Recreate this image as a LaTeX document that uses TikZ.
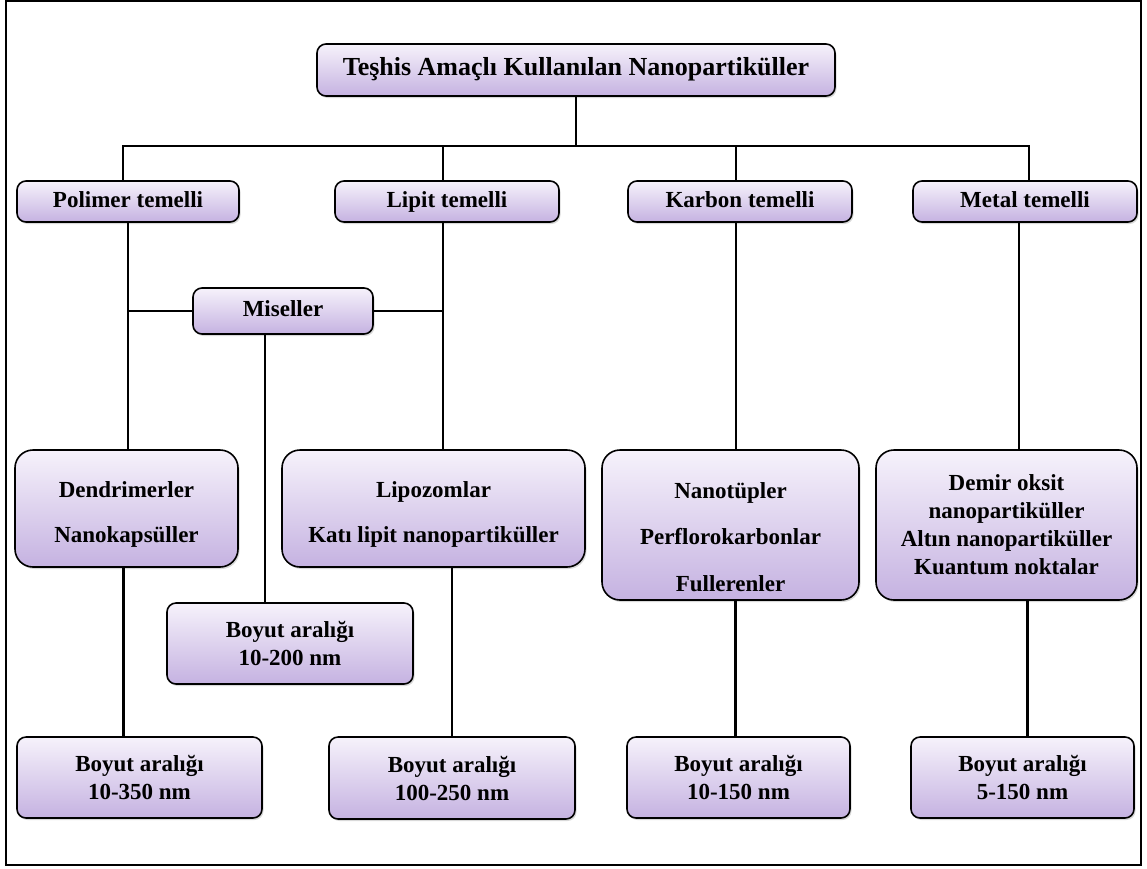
\documentclass[tikz,border=0pt]{standalone}
\usepackage{fontspec}
\setmainfont{Liberation Serif}
\usetikzlibrary{shadows}

\definecolor{kutuust}{RGB}{246,242,251}
\definecolor{kutualt}{RGB}{197,178,225}

\tikzset{
  kutu/.style={draw=black, line width=1.6pt, rounded corners=9pt,
    top color=kutuust, bottom color=kutualt,
    drop shadow={shadow xshift=1.5pt, shadow yshift=-2pt, opacity=0.3},
    align=center, inner sep=0pt,
    font=\bfseries\fontsize{23}{28}\selectfont},
  tekli/.style={text height=16pt, text depth=5pt},
  buyukkutu/.style={kutu, rounded corners=18pt},
  baglanti/.style={line width=2.6pt, draw=black},
}

\begin{document}
\begin{tikzpicture}[x=1pt, y=-1pt]
        \useasboundingbox (0,0) rectangle (1147,868);
        % Draw the frame
        \draw[line width=2pt] (6,1) rectangle (1141,865);
        % Draw the title box
        \node[kutu, tekli, minimum width=518pt, minimum height=52pt,
          font=\bfseries\fontsize{26}{30}\selectfont] (baslik) at (576,70)
          {Teşhis Amaçlı Kullanılan Nanopartiküller};
        \coordinate (bus) at (576,146);
        % Draw the groups
        \node[kutu, tekli, minimum width=222pt, minimum height=41pt] (pol) at (128,201.5) {Polimer temelli};
        \node[kutu, tekli, minimum width=224pt, minimum height=41pt] (lip) at (447,201.5) {Lipit temelli};
        \node[kutu, tekli, minimum width=224pt, minimum height=41pt] (kar) at (740,201.5) {Karbon temelli};
        \node[kutu, tekli, minimum width=224pt, minimum height=41pt] (met) at (1025,201.5) {Metal temelli};
        \node[kutu, tekli, minimum width=180pt, minimum height=46pt] (mis) at (283,311) {Miseller};
        % Draw the particle boxes
        \node[buyukkutu, minimum width=223pt, minimum height=117pt] (den) at (126.5,508.5)
          {\rule{0pt}{28pt}Dendrimerler\\[17pt]Nanokapsüller};
        \node[buyukkutu, minimum width=303pt, minimum height=117pt] (lipb) at (433.5,508.5)
          {\rule{0pt}{28pt}Lipozomlar\\[17pt]Katı lipit nanopartiküller};
        \node[buyukkutu, minimum width=257pt, minimum height=150pt] (karb) at (730.5,525)
          {\rule{0pt}{40pt}Nanotüpler\\[18.5pt]Perflorokarbonlar\\[18.5pt]Fullerenler};
        \node[buyukkutu, minimum width=261pt, minimum height=150pt] (metb) at (1006.5,525)
          {Demir oksit\\nanopartiküller\\Altın nanopartiküller\\Kuantum noktalar};
        % Draw the size boxes
        \node[kutu, minimum width=246pt, minimum height=81pt] (misn) at (290,643.5) {Boyut aralığı\\10-200 nm};
        \node[kutu, minimum width=245pt, minimum height=81pt] (poln) at (139.5,777.5) {Boyut aralığı\\10-350 nm};
        \node[kutu, minimum width=246pt, minimum height=82pt] (lipn) at (452,778) {Boyut aralığı\\100-250 nm};
        \node[kutu, minimum width=223pt, minimum height=81pt] (karn) at (738.5,777.5) {Boyut aralığı\\10-150 nm};
        \node[kutu, minimum width=223pt, minimum height=81pt] (metn) at (1022.5,777.5) {Boyut aralığı\\5-150 nm};
        % Draw the connectors
        \draw[baglanti] (baslik.south) -- (bus);
        \draw[baglanti] ([xshift=-5pt]pol.north) |- (bus) -| ([xshift=4pt]met.north);
        \draw[baglanti] ([xshift=-4pt]lip.north) -- ([xshift=-4pt]lip.north |- bus);
        \draw[baglanti] ([xshift=-4pt]kar.north) -- ([xshift=-4pt]kar.north |- bus);
        \draw[baglanti] (pol.south) -- (pol.south |- den.north);
        \draw[baglanti] ([xshift=-4pt]lip.south) -- ([xshift=-4pt]lip.south |- lipb.north);
        \draw[baglanti] ([xshift=-4pt]kar.south) -- ([xshift=-4pt]kar.south |- karb.north);
        \draw[baglanti] ([xshift=-6pt]met.south) -- ([xshift=-6pt]met.south |- metb.north);
        \draw[baglanti] (mis.west) -- (mis.west -| pol.south);
        \draw[baglanti] (mis.east) -- ([xshift=-4pt]mis.east -| lip.south);
        \draw[baglanti] ([xshift=-18pt]mis.south) -- ([xshift=-18pt]mis.south |- misn.north);
        \draw[baglanti] ([xshift=-3pt]den.south) -- ([xshift=-3pt]den.south |- poln.north);
        \draw[baglanti] (lipb.south -| lipn.north) -- (lipn.north);
        \draw[baglanti] ([xshift=-3pt]karb.south -| karn.north) -- ([xshift=-3pt]karn.north);
        \draw[baglanti] ([xshift=5pt]metn.north |- metb.south) -- ([xshift=5pt]metn.north);
    \end{tikzpicture}
\end{document}
